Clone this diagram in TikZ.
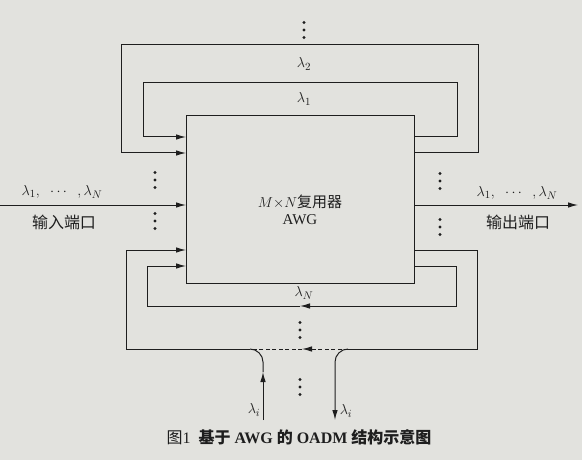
\documentclass[tikz,border=0pt]{standalone}
\usepackage{fontspec}
\setmainfont{Liberation Serif}
\newfontfamily\cjk{Noto Sans CJK SC}
\usetikzlibrary{arrows.meta}
\definecolor{paper}{RGB}{226,226,222}
\definecolor{ink}{RGB}{30,30,30}
\begin{document}
\begin{tikzpicture}[x=1pt,y=-1pt,
  wire/.style={draw=ink, line width=1pt},
  arr/.style={-{Latex[length=10pt,width=5.5pt]}},
  dashline/.style={dash pattern=on 4pt off 2.5pt},
  lbl/.style={text=ink, inner sep=0pt, font=\fontsize{15}{15}\selectfont},
  cjklbl/.style={text=ink, inner sep=0pt, font=\cjk\fontsize{16}{16}\selectfont},
  vdts/.pic={\foreach \d in {-7.5,0,7.5} \fill[ink] (0,\d) circle (1.6pt);}]
\useasboundingbox (0,0) rectangle (582,460);
\fill[paper] (0,0) rectangle (582,460);
% main box
\node[draw=ink, line width=1.1pt, minimum width=228pt, minimum height=168pt,
      inner sep=0pt, anchor=north west] (awg) at (186,115) {};
\node[lbl, align=center, font=\fontsize{15}{17}\selectfont] (awgtext) at (300,210)
  {$M{\times}N${\cjk 复用器}\\AWG};
% rows
\coordinate (rA) at (0,137);
\coordinate (rB) at (0,153);
\coordinate (rC) at (0,250);
\coordinate (rD) at (0,266);
\coordinate (rIO) at (0,205);
% corners
\coordinate (t1r) at (457,83);
\coordinate (t1l) at (143,137);
\coordinate (t2r) at (478,45);
\coordinate (t2l) at (121,153);
\coordinate (bDr) at (456,306);
\coordinate (bDm) at (300,306);
\coordinate (bDl) at (147,266);
\coordinate (bCr) at (477,349);
\coordinate (dropS) at (348,349);
\coordinate (bCm) at (302,349);
\coordinate (addE) at (250,349);
\coordinate (bCl) at (126,250);
\coordinate (addB) at (263,420);
\coordinate (addM) at (263,372);
\coordinate (addT) at (263,362);
\coordinate (dropT) at (335,362);
\coordinate (dropB) at (335,420);
\coordinate (inS) at (0,205);
\coordinate (outE) at (578,205);
% top loops
\draw[wire,arr] (awg.east |- rA) -| (t1r) -| (t1l) -- (awg.west |- rA);
\draw[wire,arr] (awg.east |- rB) -| (t2r) -| (t2l) -- (awg.west |- rB);
% bottom inner loop
\draw[wire,arr] (awg.east |- rD) -| (bDr) -- (bDm);
\draw[wire,arr] (bDm) -| (bDl) -- (awg.west |- rD);
% bottom outer loop
\draw[wire] (awg.east |- rC) -| (bCr) -- (dropS);
\draw[wire,dashline,arr] (dropS) -- (bCm);
\draw[wire,dashline] (bCm) -- (addE);
\draw[wire,arr] (addE) -| (bCl) -- (awg.west |- rC);
% add / drop
\draw[wire,arr] (addB) -- (addM);
\draw[wire] (addM) -- (addT) .. controls (263,355) and (257,349) .. (addE);
\draw[wire,arr] (dropS) .. controls (341,349) and (335,355) .. (dropT) -- (dropB);
% input / output
\draw[wire,arr] (inS) -- (awg.west |- rIO);
\draw[wire,arr] (awg.east |- rIO) -- (outE);
% labels
\node[lbl] (l2) at (304,64) {$\lambda_2$};
\node[lbl] (l1) at (304,99) {$\lambda_1$};
\node[lbl] (lN) at (304,293) {$\lambda_N$};
\node[lbl] (lin) at (62,192) {$\lambda_1,\;\;\cdots\;\;,\lambda_N$};
\node[lbl] (lout) at (517,193) {$\lambda_1,\;\;\cdots\;\;,\lambda_N$};
\node[cjklbl] (pin) at (64,222) {输入端口};
\node[cjklbl] (pout) at (518,222) {输出端口};
\node[lbl] (ladd) at (254,410) {$\lambda_i$};
\node[lbl] (ldrop) at (346,411) {$\lambda_i$};
% dots
\pic at (304,30) {vdts};
\pic at (155,180) {vdts};
\pic at (155,221) {vdts};
\pic at (440,181) {vdts};
\pic at (440,227) {vdts};
\pic at (300,330) {vdts};
\pic at (300,387) {vdts};
% caption
\node[text=ink, inner sep=0pt, font=\fontsize{16}{16}\selectfont] (cap) at (299,437)
  {{\cjk 图}1\ \ {\cjk\bfseries 基于} \textbf{AWG} {\cjk\bfseries 的} \textbf{OADM} {\cjk\bfseries 结构示意图}};
\end{tikzpicture}
\end{document}
